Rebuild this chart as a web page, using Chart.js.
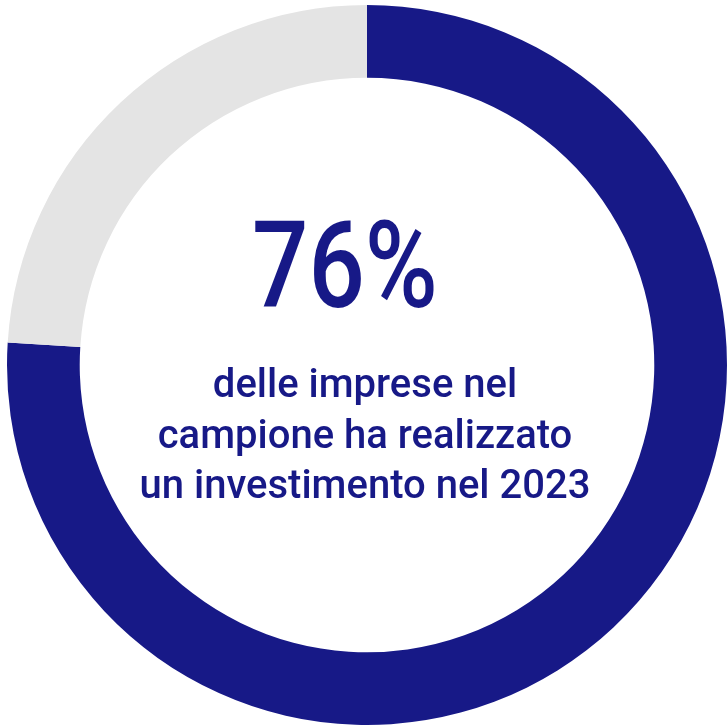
<!DOCTYPE html>
<html>
<head>
<meta charset="utf-8">
<script src="https://cdn.jsdelivr.net/npm/chart.js@4.4.1/dist/chart.umd.min.js"></script>
<style>
  html, body { margin: 0; padding: 0; background: #ffffff; }
  #wrap { width: 728px; height: 727px; }
</style>
</head>
<body>
<div id="wrap"><canvas id="donut" width="728" height="727"></canvas></div>
<script>
// share of companies that invested in 2023
let labels = ["Con investimento", "Senza investimento"];
let values = [76, 24];
let colors = ["#171987", "#e4e4e4"];
let captionLines = ["delle imprese nel", "campione ha realizzato", "un investimento nel 2023"];

const centerText = {
    id: "centerText",
    afterDraw(chart) {
        let ctx = chart.ctx;
        let area = chart.chartArea;
        let cx = (area.left + area.right) / 2;
        ctx.save();
        ctx.fillStyle = colors[0];
        ctx.textAlign = "center";
        ctx.textBaseline = "alphabetic";

        // big percentage, squeezed horizontally
        ctx.save();
        ctx.translate(cx - 22, 307);
        ctx.scale(0.82, 1);
        ctx.font = "500 121px Roboto";
        ctx.fillText(values[0] + "%", 0, 0);
        ctx.restore();

        ctx.font = "500 40px Roboto";
        captionLines.forEach((line, i) => {
            ctx.fillText(line, cx - 2, 397 + i * 50.5);
        });
        ctx.restore();
    }
};

new Chart(document.getElementById("donut").getContext("2d"), {
    type: "doughnut",
    data: {
        labels: labels,
        datasets: [{
            data: values,
            backgroundColor: colors,
            borderWidth: 0
        }]
    },
    options: {
        responsive: false,
        animation: false,
        cutout: "79.8%",
        layout: { padding: { left: 7, right: 1, top: 5, bottom: 2 } },
        plugins: {
            legend: { display: false },
            tooltip: { enabled: false }
        }
    },
    plugins: [centerText]
});
</script>
</body>
</html>
